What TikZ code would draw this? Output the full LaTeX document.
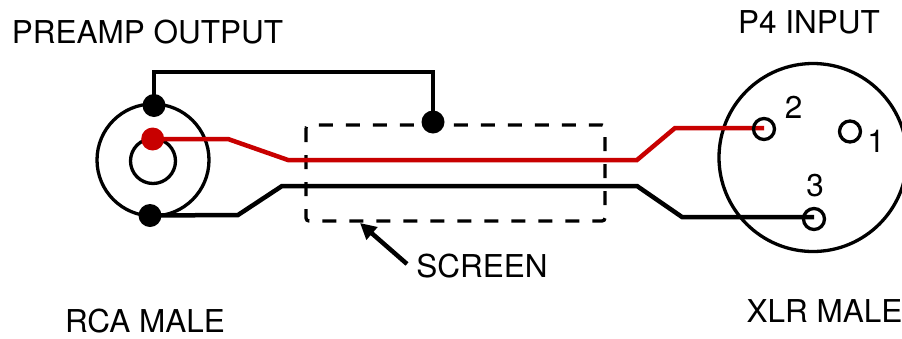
\documentclass[tikz,border=0pt]{standalone}
\usepackage{fontspec}
\setmainfont{TeX Gyre Heros}
\usetikzlibrary{arrows.meta}
\definecolor{wirered}{RGB}{200,0,0}
\begin{document}
\begin{tikzpicture}[x=1pt,y=-1pt,
  wire/.style={line width=4.5pt, line join=miter},
  lbl/.style={font=\fontsize{31.5}{36}\selectfont, inner sep=0pt, anchor=base},
  dot/.style={circle, fill, inner sep=0pt, minimum size=23pt},
  pin/.style={circle, draw, line width=3.3pt, inner sep=0pt, minimum size=21pt},
  ring/.style={circle, draw, line width=3.3pt, inner sep=0pt},
  screenbox/.style={line width=3.3pt, dash pattern=on 14pt off 13pt, rounded corners=3pt}]
\useasboundingbox (0,0) rectangle (902,338);
% labels
\node[lbl] (preamp) at (147.5,43) {PREAMP OUTPUT};
\node[lbl] (rcalbl) at (145,332) {RCA MALE};
\node[lbl] (p4) at (809,33) {P4 INPUT};
\node[lbl] (xlrlbl) at (824.5,322) {XLR MALE};
\node[lbl] (screenlbl) at (482,277) {SCREEN};
% connector bodies
\node[ring, minimum size=112pt] (rca) at (153,160) {};
\node[ring, minimum size=45pt] (rcain) at (153,161) {};
\node[ring, minimum size=188pt] (xlr) at (813,157.5) {};
% screen
\draw[screenbox] (306,125) rectangle (605,221);
% dot positions
\coordinate (tdotc) at (154,105.5);
\coordinate (rdotc) at (152.7,139);
\coordinate (bdotc) at (150,215.5);
\coordinate (sdotc) at (433,122);
% wires
\draw[wire] (tdotc) -- (154,72) -| (sdotc);
\draw[wire, wirered] (rdotc) -- (228,139) -- (288,160) -- (637,160) -- (675,128) -- (764,128);
\draw[wire] (bdotc) -- (238,215) -- (282,186) -- (637,186) -- (682,217) -- (814,217);
% dots
\node[dot] (tdot) at (tdotc) {};
\node[dot, fill=wirered] (rdot) at (rdotc) {};
\node[dot] (bdot) at (bdotc) {};
\node[dot] (sdot) at (sdotc) {};
% pins
\node[pin] (pin2) at (764,129) {};
\node[pin] (pin1) at (850,131.5) {};
\node[pin] (pin3) at (814,219) {};
\node[lbl] (n2) at (793.5,118) {2};
\node[lbl] (n1) at (876,152) {1};
\node[lbl] (n3) at (815,196) {3};
% arrow
\coordinate (arrtail) at (407,264);
\coordinate (arrtip) at (360,223);
\draw[line width=4.5pt, -{Triangle[length=16pt,width=16pt]}] (arrtail) -- (arrtip);
\end{tikzpicture}
\end{document}
